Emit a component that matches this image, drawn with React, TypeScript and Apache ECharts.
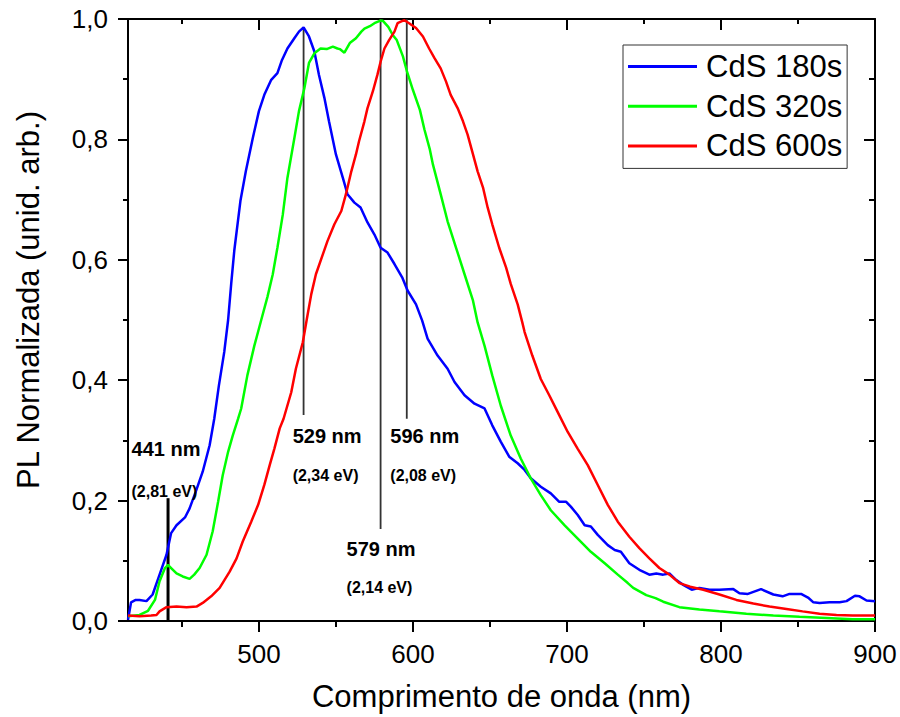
import React, { useEffect, useRef } from "react";
import * as echarts from "echarts";

const seriesNames = ["CdS 180s", "CdS 320s", "CdS 600s"];
const seriesColors = ["#0000ff", "#00ff00", "#ff0000"];

// [wavelength (nm), normalized PL]
const cds180 = [
  [415, 0.002], [417, 0.031], [420, 0.035], [422.5, 0.035], [427, 0.033], [431, 0.044],
  [435.5, 0.077], [440, 0.11], [443, 0.146], [446.5, 0.159], [452, 0.172], [455, 0.187],
  [459, 0.215], [463.5, 0.248], [468, 0.292], [471, 0.336], [474, 0.391], [477.5, 0.447],
  [480, 0.5], [482, 0.56], [484, 0.615], [488, 0.698], [491.5, 0.747], [496, 0.802], [500, 0.847],
  [503.5, 0.874], [508, 0.899], [512, 0.91], [515, 0.932], [518.5, 0.951], [523, 0.968],
  [526, 0.979], [529, 0.986], [532.5, 0.971], [536, 0.946], [539, 0.907], [542.5, 0.869],
  [545.5, 0.83], [550, 0.775], [554.5, 0.736], [557.5, 0.709], [562, 0.695], [566, 0.687],
  [570.5, 0.662], [575, 0.642], [579, 0.62], [583.5, 0.612], [588, 0.593], [593, 0.571],
  [596.5, 0.549], [602, 0.526], [606, 0.499], [609.5, 0.469], [616, 0.441], [622.5, 0.419],
  [627, 0.397], [633.5, 0.375], [640, 0.361], [646.5, 0.353], [651.5, 0.325], [657, 0.298],
  [662.5, 0.273], [668, 0.262], [672.5, 0.251], [676.5, 0.237], [683, 0.223], [689.5, 0.212],
  [695, 0.198], [699.5, 0.198], [702.5, 0.19], [707, 0.176], [711.5, 0.159], [715.5, 0.157],
  [720, 0.143], [726.5, 0.126], [731, 0.118], [735, 0.115], [740.5, 0.096], [747, 0.085],
  [753.5, 0.077], [758, 0.079], [762.5, 0.077], [766.5, 0.079], [771, 0.068], [775.5, 0.06],
  [781, 0.052], [786, 0.055], [792.5, 0.052], [799, 0.052], [808, 0.053], [812, 0.046],
  [817.5, 0.045], [826, 0.053], [834, 0.044], [840, 0.041], [844.5, 0.045], [852, 0.045],
  [856.5, 0.039], [860, 0.031], [864, 0.03], [870.5, 0.031], [877, 0.031], [881.5, 0.033],
  [887, 0.042], [890, 0.041], [894.5, 0.034], [900, 0.033],
];

const cds320 = [
  [415, 0.008], [422.5, 0.01], [428, 0.017], [432.5, 0.035], [435.5, 0.066], [439, 0.088],
  [441, 0.093], [443, 0.088], [446.5, 0.079], [450.5, 0.074], [455, 0.07], [458, 0.077],
  [461.5, 0.088], [466, 0.11], [470, 0.149], [473.5, 0.198], [476.5, 0.242], [480, 0.281],
  [483, 0.308], [486.5, 0.336], [488.5, 0.353], [492.5, 0.408], [497, 0.457], [501.5, 0.5],
  [505.5, 0.538], [509, 0.576], [512, 0.62], [515.5, 0.675], [518.5, 0.736], [523, 0.802],
  [526, 0.847], [529.5, 0.885], [532.5, 0.927], [536, 0.943], [540, 0.951], [544, 0.95],
  [548, 0.954], [551, 0.951], [552.5, 0.95], [555.5, 0.944], [559, 0.96], [563, 0.968],
  [566.5, 0.979], [568.5, 0.984], [572, 0.988], [575, 0.993], [578.5, 0.997], [580.5, 0.997],
  [584, 0.987], [587, 0.973], [589.5, 0.965], [593.5, 0.938], [596, 0.914], [600, 0.882],
  [604.5, 0.849], [607.5, 0.816], [611, 0.783], [613, 0.758], [618, 0.709], [622.5, 0.664],
  [628, 0.62], [633.5, 0.576], [639, 0.532], [642, 0.496], [646.5, 0.457], [651.5, 0.408],
  [657, 0.358], [663.5, 0.308], [670, 0.27], [676.5, 0.237], [683, 0.209], [689.5, 0.184],
  [698.5, 0.159], [707, 0.137], [715.5, 0.115], [724.5, 0.096], [733, 0.077], [739.5, 0.063],
  [743, 0.055], [751.5, 0.043], [757.5, 0.038], [762.5, 0.032], [773, 0.023], [786, 0.019],
  [799, 0.016], [816.5, 0.012], [834, 0.009], [851, 0.007], [868.5, 0.005], [885.5, 0.003],
  [900, 0.003],
];

const cds600 = [
  [415, 0.009], [422.5, 0.008], [430, 0.009], [433.5, 0.01], [435.5, 0.016], [440, 0.023],
  [446.5, 0.024], [453, 0.023], [459.5, 0.024], [463.5, 0.03], [469, 0.041], [474.5, 0.055],
  [481, 0.082], [485.5, 0.104], [489.5, 0.132], [495, 0.165], [499.5, 0.193], [503.5, 0.226],
  [507, 0.259], [510, 0.286], [513.5, 0.32], [516, 0.336], [521, 0.38], [524, 0.419],
  [528.5, 0.463], [531, 0.5], [534, 0.543], [537, 0.576], [541.5, 0.609], [544.5, 0.631],
  [549, 0.659], [553.5, 0.681], [556.5, 0.709], [560, 0.747], [563, 0.775], [565, 0.797],
  [568.5, 0.83], [570.5, 0.852], [574, 0.88], [577, 0.908], [579, 0.929], [581.5, 0.951],
  [584.5, 0.965], [588, 0.979], [590, 0.993], [592.5, 0.996], [594.5, 0.998], [597.5, 0.993],
  [602, 0.985], [606.5, 0.971], [610.5, 0.951], [614, 0.935], [618, 0.918], [621.5, 0.896],
  [624.5, 0.874], [629, 0.852], [632.5, 0.83], [635.5, 0.808], [639, 0.775], [642, 0.747],
  [645.5, 0.72], [648.5, 0.687], [651.5, 0.659], [656, 0.62], [660.5, 0.587], [663.5, 0.56],
  [668, 0.526], [671, 0.496], [672.5, 0.48], [677.5, 0.441], [683, 0.402], [688.5, 0.375],
  [694, 0.347], [700.5, 0.314], [707, 0.286], [713.5, 0.259], [720, 0.226], [726.5, 0.193],
  [733, 0.165], [740.5, 0.14], [747, 0.121], [753.5, 0.104], [760, 0.088], [766.5, 0.077],
  [773, 0.063], [780, 0.057], [788.5, 0.052], [799, 0.044], [810, 0.035], [821, 0.029],
  [831.5, 0.024], [842.5, 0.02], [853, 0.016], [864, 0.012], [875, 0.01], [885.5, 0.009],
  [900, 0.009],
];

const xMin = 415;
const xMax = 900;
const xMajorTicks = [500, 600, 700, 800, 900];
const xMinorTicks = [450, 550, 650, 750, 850];
const yMin = 0;
const yMax = 1;
const yStep = 0.2;

// Peak markers
const peakNm = [441, 529, 579, 596];
const peakLineTop = [0.204, 0.985, 1.0, 1.0];
const peakLineBottom = [0, 0.342, 0.153, 0.336];
const peakLabels = ["441 nm", "529 nm", "579 nm", "596 nm"];
const peakEnergies = ["(2,81 eV)", "(2,34 eV)", "(2,14 eV)", "(2,08 eV)"];
// label anchors (data coordinates: left edge, vertical middle)
const labelNm = [417.3, 521.9, 556.9, 585.3];
const labelPl = [0.285, 0.308, 0.119, 0.308];
const energyPl = [0.215, 0.242, 0.055, 0.242];

const FONT = "'Liberation Sans', Arial, Helvetica, sans-serif";

export default function App() {
  const ref = useRef<HTMLDivElement>(null);

  useEffect(() => {
    if (!ref.current) return;
    const chart = echarts.init(ref.current, undefined, { renderer: "svg" });

    const curves = [cds180, cds320, cds600];
    const curveSeries = curves.map((d, i) => ({
      name: seriesNames[i],
      type: "line",
      data: d,
      symbol: "none",
      showSymbol: false,
      smooth: false,
      xAxisIndex: 0,
      yAxisIndex: 0,
      lineStyle: { color: seriesColors[i], width: 2.5 },
      itemStyle: { color: seriesColors[i] },
      z: 3,
    }));

    const markerSeries = peakNm.map((nm, i) => ({
      name: "peak" + nm,
      type: "line",
      data: [
        [nm, peakLineBottom[i]],
        [nm, peakLineTop[i]],
      ],
      symbol: "none",
      silent: true,
      lineStyle: { color: i === 0 ? "#000" : "#333", width: i === 0 ? 3 : 1.8 },
      z: 2,
    }));

    const labelData: any[] = [];
    peakNm.forEach((nm, i) => {
      labelData.push({
        value: [labelNm[i], labelPl[i]],
        label: { formatter: peakLabels[i], fontSize: 20 },
      });
      labelData.push({
        value: [labelNm[i], energyPl[i]],
        label: { formatter: peakEnergies[i], fontSize: 16 },
      });
    });

    const labelSeries = {
      name: "labels",
      type: "scatter",
      data: labelData,
      symbolSize: 0,
      silent: true,
      z: 5,
      itemStyle: { color: "#000", opacity: 1 },
      label: {
        show: true,
        position: "right",
        distance: 0,
        align: "left",
        verticalAlign: "middle",
        color: "#000",
        opacity: 1,
        textBorderWidth: 0,
        fontWeight: "bold",
        fontFamily: FONT,
      },
    };

    const axisLineStyle = { color: "#000", width: 2 };
    const tickStyle = { color: "#000", width: 2 };

    chart.setOption({
      animation: false,
      backgroundColor: "#fff",
      grid: { left: 128, right: 25, top: 19, bottom: 94, containLabel: false },
      legend: {
        data: seriesNames,
        orient: "vertical",
        left: 623,
        top: 45,
        icon: "rect",
        itemWidth: 69,
        itemHeight: 3,
        itemGap: 8.7,
        padding: [6, 5, 7, 5],
        borderColor: "#333",
        borderWidth: 1,
        backgroundColor: "#fff",
        textStyle: {
          fontSize: 31,
          lineHeight: 30,
          color: "#000",
          fontFamily: FONT,
          padding: [0, 0, 0, 4],
        },
      },
      xAxis: [
        {
          type: "value",
          position: "bottom",
          min: xMin,
          max: xMax,
          name: "Comprimento de onda (nm)",
          nameLocation: "middle",
          nameGap: 60,
          nameTextStyle: { fontSize: 31, color: "#000", fontFamily: FONT },
          axisLine: { show: true, onZero: false, lineStyle: axisLineStyle },
          axisTick: { show: true, customValues: xMajorTicks, length: 11, lineStyle: tickStyle },
          axisLabel: {
            show: true,
            customValues: xMajorTicks,
            fontSize: 26,
            color: "#000",
            margin: 20,
            fontFamily: FONT,
          },
          splitLine: { show: false },
        },
        {
          type: "value",
          position: "bottom",
          min: xMin,
          max: xMax,
          axisLine: { show: false, onZero: false },
          axisTick: { show: true, customValues: xMinorTicks, length: 6, lineStyle: tickStyle },
          axisLabel: { show: false },
          splitLine: { show: false },
        },
        {
          type: "value",
          position: "top",
          min: xMin,
          max: xMax,
          axisLine: { show: true, onZero: false, lineStyle: axisLineStyle },
          axisTick: { show: true, inside: true, customValues: xMajorTicks, length: 11, lineStyle: tickStyle },
          axisLabel: { show: false },
          splitLine: { show: false },
        },
        {
          type: "value",
          position: "top",
          min: xMin,
          max: xMax,
          axisLine: { show: false, onZero: false },
          axisTick: { show: true, inside: true, customValues: xMinorTicks, length: 5, lineStyle: tickStyle },
          axisLabel: { show: false },
          splitLine: { show: false },
        },
      ],
      yAxis: [
        {
          type: "value",
          position: "left",
          min: yMin,
          max: yMax,
          interval: yStep,
          name: "PL Normalizada (unid. arb.)",
          nameLocation: "middle",
          nameGap: 84,
          nameTextStyle: { fontSize: 31, color: "#000", fontFamily: FONT, padding: [0, 0, 0, 40] },
          axisLine: { show: true, onZero: false, lineStyle: axisLineStyle },
          axisTick: { show: true, length: 10, lineStyle: tickStyle },
          minorTick: { show: true, splitNumber: 2, length: 5, lineStyle: tickStyle },
          axisLabel: {
            fontSize: 26,
            color: "#000",
            margin: 20,
            fontFamily: FONT,
            formatter: (v: number) => v.toFixed(1).replace(".", ","),
          },
          splitLine: { show: false },
          minorSplitLine: { show: false },
        },
        {
          type: "value",
          position: "right",
          min: yMin,
          max: yMax,
          interval: yStep,
          axisLine: { show: true, onZero: false, lineStyle: axisLineStyle },
          axisTick: { show: true, inside: true, length: 11, lineStyle: tickStyle },
          minorTick: { show: true, splitNumber: 2, length: 6, lineStyle: tickStyle },
          axisLabel: { show: false },
          splitLine: { show: false },
          minorSplitLine: { show: false },
        },
      ],
      series: [...markerSeries, ...curveSeries, labelSeries],
    });

    return () => chart.dispose();
  }, []);

  return (
    <div
      ref={ref}
      style={{ position: "fixed", left: 0, top: 0, width: 900, height: 717, background: "#fff" }}
    />
  );
}
